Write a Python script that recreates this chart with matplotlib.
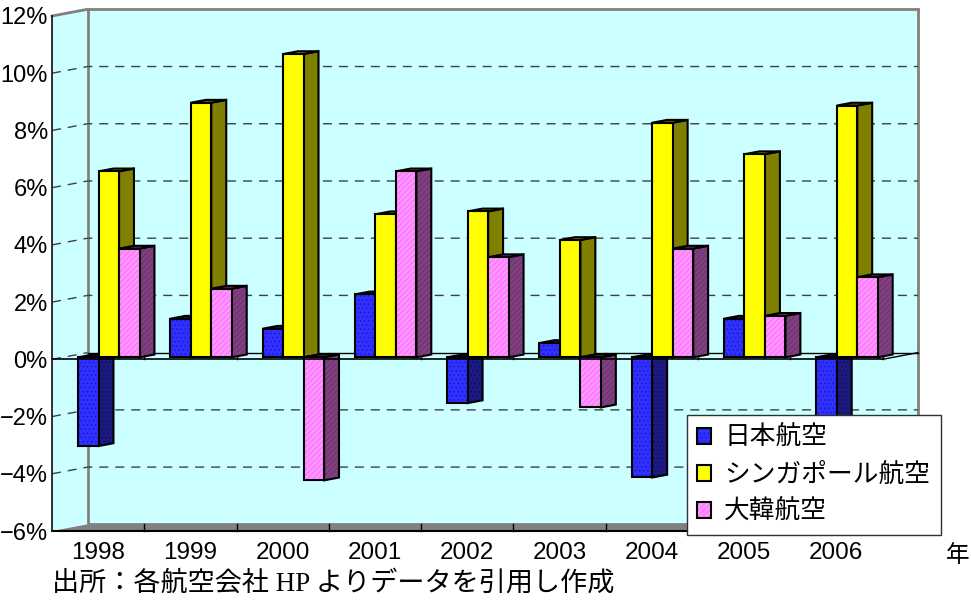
import matplotlib
matplotlib.use('Agg')
import matplotlib.pyplot as plt
from matplotlib.patches import Polygon, Patch
from matplotlib.legend_handler import HandlerTuple

# data (operating margin, %)
years = ['1998', '1999', '2000', '2001', '2002', '2003', '2004', '2005', '2006']
jal = [-3.1, 1.35, 1.0, 2.2, -1.6, 0.5, -4.2, 1.35, -2.6]
sia = [6.5, 8.9, 10.6, 5.0, 5.1, 4.1, 8.2, 7.1, 8.8]
kal = [3.8, 2.4, -4.3, 6.5, 3.5, -1.75, 3.8, 1.45, 2.8]
series_names = ['日本航空', 'シンガポール航空', '大韓航空']
y_ticks = [-6, -4, -2, 0, 2, 4, 6, 8, 10, 12]

# colours per series: front face, side/top face, hatch
FRONT = ['#3030FF', '#FFFF00', '#FF80FF']
SIDE = ['#1A1A80', '#808000', '#804080']
HATCH = ['....', None, '//////']
HATCH_FRONT = ['#1818C8', None, '#FFB4FF']
HATCH_SIDE = ['#101060', None, '#6A306A']
WALL = '#CCFFFF'
FLOOR = '#808080'

# fake 3d geometry (data units)
DX, DY = 0.385, 0.234      # depth of back wall
BAR_W = 0.222              # width of one bar
BAR_Z0 = 0.30              # depth of the bar front face (fraction of wall depth)
BAR_D = 0.42               # depth of a bar (fraction of wall depth)

plt.rcParams['hatch.linewidth'] = 0.6

fig = plt.figure(figsize=(9.71, 6.0), dpi=100)
ax = fig.add_axes([52 / 971, 1 - 531 / 600, 830.5 / 971, 515 / 600])
n = len(years)
ymin, ymax = y_ticks[0], y_ticks[-1]
ax.set_xlim(0, n)
ax.set_ylim(ymin, ymax)
ax.patch.set_visible(False)
for s in ax.spines.values():
    s.set_visible(False)


def poly(pts, fc, ec='black', lw=1.5, z=5, hatch=None, hc=None):
    if hatch:
        ax.add_patch(Polygon(pts, closed=True, facecolor=fc, edgecolor=hc, lw=0,
                             hatch=hatch, zorder=z, clip_on=False))
        ax.add_patch(Polygon(pts, closed=True, fill=False, edgecolor=ec, lw=lw,
                             zorder=z, clip_on=False, joinstyle='miter'))
    else:
        ax.add_patch(Polygon(pts, closed=True, facecolor=fc, edgecolor=ec, lw=lw,
                             zorder=z, clip_on=False, joinstyle='miter'))


# walls
poly([(0, ymin), (0, ymax), (DX, ymax + DY), (DX, ymin + DY)], WALL, ec='none', lw=0, z=1)
poly([(DX, ymin + DY), (DX, ymax + DY), (n + DX, ymax + DY), (n + DX, ymin + DY)],
     WALL, ec='#808080', lw=2.0, z=1)
ax.plot([0, DX], [ymax, ymax + DY], color='#808080', lw=2.0, zorder=1.5, clip_on=False)

# gridlines on side and back wall
for v in y_ticks[1:-1]:
    xs = [0, DX] if v == 0 else [0, DX, n + DX]
    ys = [v, v + DY] if v == 0 else [v, v + DY, v + DY]
    ax.plot(xs, ys, color='#404040', lw=1.0, dashes=(6.5, 5), zorder=2, clip_on=False)

# floor
poly([(0, ymin), (n, ymin), (n + DX, ymin + DY), (DX, ymin + DY)], FLOOR, ec='none', lw=0, z=2)
ax.plot([0, n], [ymin, ymin], color='black', lw=1.5, zorder=3, clip_on=False)
for k in range(1, n + 1):
    ax.plot([k, k], [ymin, ymin + DY], color='black', lw=1.0, zorder=3, clip_on=False)

# zero plane (category axis at 0)
ax.plot([DX, n + DX], [DY, DY], color='black', lw=1.0, zorder=3, clip_on=False)
for k in range(1, n + 1):
    ax.plot([k, k], [0, DY], color='black', lw=1.0, zorder=3, clip_on=False)
ax.plot([n, n + DX], [0, DY], color='black', lw=1.0, zorder=3, clip_on=False)

# bars, drawn left to right so each front face covers the previous side face
z = 10
for i in range(n):
    for j, vals in enumerate([jal, sia, kal]):
        v = vals[i]
        x0 = i + 0.5 - 1.5 * BAR_W + j * BAR_W + BAR_Z0 * DX
        x1 = x0 + BAR_W
        y0 = BAR_Z0 * DY
        lo, hi = min(v, 0) + y0, max(v, 0) + y0
        ox, oy = BAR_D * DX, BAR_D * DY
        side = [(x1, lo), (x1 + ox, lo + oy), (x1 + ox, hi + oy), (x1, hi)]
        top = [(x0, hi), (x1, hi), (x1 + ox, hi + oy), (x0 + ox, hi + oy)]
        front = [(x0, lo), (x1, lo), (x1, hi), (x0, hi)]
        poly(side, SIDE[j], z=z, hatch=HATCH[j], hc=HATCH_SIDE[j])
        poly(top, SIDE[j], z=z)
        poly(front, FRONT[j], z=z, hatch=HATCH[j], hc=HATCH_FRONT[j])
        z += 1

# front zero line and value axis
ax.plot([0, n], [0, 0], color='black', lw=1.2, zorder=60, clip_on=False)
ax.plot([0, 0], [ymin, ymax], color='#202020', lw=1.3, zorder=60, clip_on=False)

# ticks
ax.set_yticks(y_ticks)
ax.set_yticklabels([f'{v}%'.replace('-', '−') for v in y_ticks],
                   family='Liberation Sans', fontsize=17)
ax.set_xticks([i + 0.5 for i in range(n)])
ax.set_xticklabels(years, family='Liberation Sans', fontsize=17.5)
ax.tick_params(axis='y', length=0, pad=3)
ax.tick_params(axis='x', length=0, pad=8)

# legend
handles = []
for j in range(3):
    fill = Patch(facecolor=FRONT[j], edgecolor=HATCH_FRONT[j] or FRONT[j],
                 hatch=HATCH[j], lw=0)
    edge = Patch(fill=False, edgecolor='black', lw=1.5)
    handles.append((fill, edge))
leg = ax.legend(handles, series_names, handler_map={tuple: HandlerTuple(ndivide=1)},
                loc='upper left', bbox_to_anchor=(687 / 971, 1 - 415 / 600),
                bbox_transform=fig.transFigure, borderaxespad=0,
                prop={'family': 'Noto Sans CJK JP', 'size': 18.5},
                frameon=True, fancybox=False, framealpha=1, edgecolor='#303030',
                borderpad=0.4, handlelength=0.55, handleheight=0.55,
                handletextpad=0.5, labelspacing=0.42)
leg.get_frame().set_linewidth(1.0)
leg.set_zorder(100)

fig.text(958 / 971, 1 - 555 / 600, '年', ha='center', va='center',
         family='Noto Sans CJK JP', fontsize=17)
fig.text(52 / 971, 1 - 584 / 600, '出所：各航空会社 HP よりデータを引用し作成',
         ha='left', va='center', family=['Liberation Serif', 'Noto Sans CJK JP'],
         fontsize=19.5)

fig.savefig('out.png', dpi=100)
